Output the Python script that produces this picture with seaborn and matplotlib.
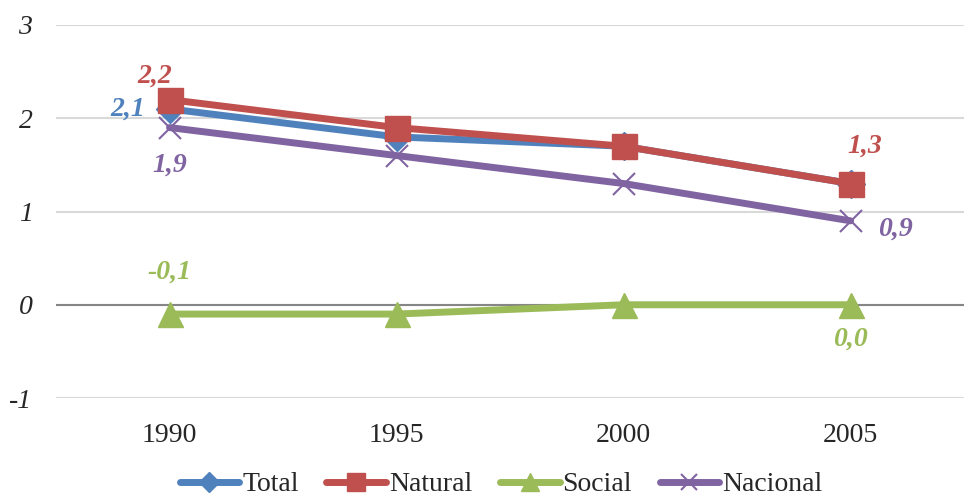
import numpy as np
import pandas as pd
import seaborn as sns
import matplotlib.pyplot as plt
from matplotlib.lines import Line2D

# datos
years = ["1990", "1995", "2000", "2005"]
total = [2.1, 1.8, 1.7, 1.3]
natural = [2.2, 1.9, 1.7, 1.3]
social = [-0.1, -0.1, 0.0, 0.0]
nacional = [1.9, 1.6, 1.3, 0.9]

sns.set_style("white")
plt.rcParams['font.family'] = ['Liberation Serif', 'DejaVu Serif']

series = [
    ("Total", total, "#4F81BD", "D", 14, 1.0),
    ("Natural", natural, "#C0504D", "s", 18, 1.0),
    ("Social", social, "#9BBB59", "^", 18, 1.0),
    ("Nacional", nacional, "#8064A2", "x", 16, 1.5),
]

# etiquetas de datos: (serie, índice, dx, dy en puntos)
labels = [
    ("Total", 0, -30, 0),
    ("Natural", 0, -11, 17),
    ("Natural", 3, 10, 27),
    ("Social", 0, 0, 30),
    ("Social", 3, 0, -25),
    ("Nacional", 0, 0, -27),
    ("Nacional", 3, 32, -6),
]

x = np.arange(len(years))
df = pd.DataFrame({"x": x, "Total": total, "Natural": natural,
                   "Social": social, "Nacional": nacional})

fig = plt.figure(figsize=(9.66, 5.0), dpi=100)
ax = fig.add_axes([0.058, 0.204, 0.94, 0.746])

for name, vals, color, mk, ms, mew in series:
    sns.lineplot(data=df, x="x", y=name, ax=ax, color=color, lw=5,
                 marker=mk, markersize=ms, markeredgewidth=mew,
                 markeredgecolor=color, markerfacecolor=color, zorder=3)

colors = {s[0]: s[2] for s in series}
values = {s[0]: s[1] for s in series}
for name, i, dx, dy in labels:
    v = values[name][i]
    ax.annotate(f"{v:.1f}".replace(".", ","), (x[i], v), xytext=(dx, dy),
                textcoords="offset points", ha="center", va="center",
                fontsize=20, fontweight="bold", fontstyle="italic",
                color=colors[name], zorder=5)

ax.set_xlim(-0.5, 3.5)
ax.set_ylim(-1, 3)
ax.set_yticks([-1, 0, 1, 2, 3])
ax.set_yticklabels(["-1", "0", "1", "2", "3"], fontstyle="italic", fontsize=20)
ax.set_xticks(x)
ax.set_xticklabels(years, fontsize=20)
ax.tick_params(axis="y", length=0, pad=17)
ax.tick_params(axis="x", length=0, pad=18)
ax.set_xlabel("")
ax.set_ylabel("")
for sp in ax.spines.values():
    sp.set_visible(False)
ax.yaxis.grid(True, color="#D9D9D9", lw=1.5, zorder=0)
ax.axhline(0, color="#868686", lw=1.5, zorder=1)

handles = [Line2D([], [], color=c, lw=5, marker=mk, markersize=ms * 0.7,
                  markeredgewidth=mew, markeredgecolor=c)
           for _, _, c, mk, ms, mew in series]
ax.legend(handles, [s[0] for s in series], loc="center",
          bbox_to_anchor=(0.49, -0.232), ncol=4, frameon=False, fontsize=20,
          handlelength=2.15, handletextpad=0.1, columnspacing=1.0)

fig.savefig("out.png", dpi=100)
